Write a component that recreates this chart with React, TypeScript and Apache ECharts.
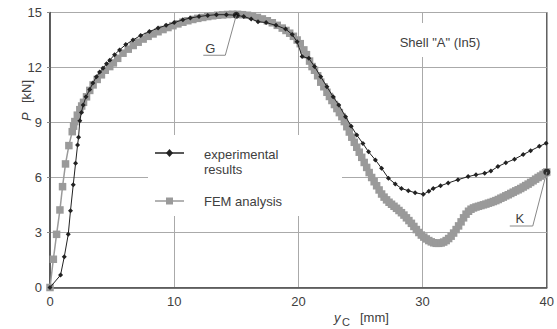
import React, { useEffect, useRef } from "react";
import * as echarts from "echarts";

const expX = [0, 0.85, 1.15, 1.47, 1.65, 1.87, 2.06, 2.22, 2.3, 2.4, 2.53, 2.67, 2.9, 3.2, 3.45, 3.74, 4.0, 4.27, 4.55, 4.81, 5.2, 5.6, 6.1, 6.68, 7.3, 8.0, 8.7, 9.35, 10.0, 10.7, 11.3, 12.0, 12.7, 13.4, 14.2, 15.0, 15.6, 16.2, 16.75, 17.4, 18.2, 18.97, 19.5, 19.9, 20.3, 20.84, 21.3, 21.8, 22.3, 22.8, 23.25, 23.8, 24.25, 24.7, 25.2, 25.65, 26.2, 26.7, 27.25, 27.8, 28.3, 28.85, 29.4, 30.06, 30.5, 30.86, 31.45, 32.06, 32.85, 33.67, 34.3, 35.0, 35.5, 36.07, 36.7, 37.4, 38.1, 38.7, 39.4, 39.95];
const expP = [0, 0.68, 1.68, 2.9, 4.19, 5.6, 6.78, 7.77, 8.2, 9.1, 9.55, 9.95, 10.4, 10.8, 11.15, 11.5, 11.75, 11.96, 12.2, 12.4, 12.7, 12.96, 13.25, 13.5, 13.75, 13.96, 14.15, 14.3, 14.45, 14.6, 14.7, 14.78, 14.84, 14.88, 14.88, 14.85, 14.78, 14.65, 14.5, 14.45, 14.3, 14.1, 13.8, 13.4, 12.6, 12.5, 12.05, 11.5, 10.95, 10.4, 9.96, 9.32, 8.8, 8.32, 7.85, 7.4, 6.96, 6.5, 5.96, 5.65, 5.4, 5.28, 5.17, 5.08, 5.25, 5.4, 5.55, 5.7, 5.88, 6.05, 6.15, 6.23, 6.35, 6.6, 6.8, 7.0, 7.25, 7.46, 7.7, 7.87];

const femX = [0, 0.27, 0.53, 0.8, 1.01, 1.25, 1.52, 1.79, 1.9, 2.0, 2.2, 2.4, 2.55, 2.7, 2.94, 3.2, 3.47, 3.8, 4.14, 4.45, 4.81, 5.1, 5.45, 5.88, 6.3, 6.7, 7.1, 7.5, 7.9, 8.3, 8.7, 9.1, 9.5, 9.9, 10.3, 10.7, 11.1, 11.5, 11.9, 12.3, 12.7, 13.1, 13.5, 13.9, 14.3, 14.7, 15.1, 15.5, 15.9, 16.3, 16.7, 17.1, 17.5, 17.9, 18.3, 18.7, 19.0, 19.3, 19.6, 19.9, 20.15, 20.44, 20.65, 20.9, 21.1, 21.3, 21.55, 21.8, 22.05, 22.3, 22.5, 22.7, 22.9, 23.1, 23.3, 23.5, 23.7, 23.9, 24.1, 24.3, 24.5, 24.7, 24.9, 25.1, 25.3, 25.5, 25.7, 25.9, 26.1, 26.3, 26.5, 26.7, 26.9, 27.1, 27.3, 27.5, 27.7, 27.9, 28.1, 28.3, 28.5, 28.7, 28.9, 29.1, 29.3, 29.5, 29.7, 29.9, 30.1, 30.3, 30.5, 30.7, 30.9, 31.1, 31.3, 31.5, 31.7, 31.9, 32.1, 32.3, 32.5, 32.7, 32.9, 33.1, 33.3, 33.5, 33.7, 33.9, 34.1, 34.3, 34.5, 34.7, 34.9, 35.1, 35.3, 35.5, 35.7, 35.9, 36.1, 36.3, 36.5, 36.7, 36.9, 37.1, 37.3, 37.5, 37.7, 37.9, 38.1, 38.3, 38.5, 38.7, 38.9, 39.1, 39.3, 39.5, 39.7, 39.9, 40.0];
const femP = [0, 1.54, 2.9, 4.23, 5.5, 6.74, 7.74, 8.5, 8.8, 9.05, 9.4, 9.7, 9.9, 10.1, 10.4, 10.75, 11.05, 11.35, 11.6, 11.85, 12.05, 12.25, 12.5, 12.78, 13.0, 13.2, 13.38, 13.55, 13.7, 13.83, 13.95, 14.07, 14.18, 14.28, 14.38, 14.47, 14.55, 14.62, 14.68, 14.73, 14.78, 14.82, 14.85, 14.87, 14.89, 14.9, 14.9, 14.88, 14.85, 14.8, 14.73, 14.65, 14.55, 14.44, 14.3, 14.15, 14.02, 13.87, 13.7, 13.5, 13.3, 12.96, 12.7, 12.35, 12.05, 11.85, 11.55, 11.2, 10.95, 10.65, 10.42, 10.2, 9.98, 9.76, 9.54, 9.32, 9.05, 8.77, 8.48, 8.2, 7.92, 7.65, 7.38, 7.1, 6.82, 6.55, 6.27, 6.0, 5.77, 5.55, 5.32, 5.1, 4.93, 4.78, 4.65, 4.54, 4.43, 4.32, 4.2, 4.08, 3.95, 3.8, 3.65, 3.5, 3.33, 3.16, 3.0, 2.86, 2.75, 2.65, 2.56, 2.49, 2.44, 2.41, 2.41, 2.43, 2.48, 2.56, 2.67, 2.8, 2.97, 3.16, 3.36, 3.58, 3.8, 4.0, 4.16, 4.27, 4.34, 4.39, 4.43, 4.47, 4.51, 4.55, 4.6, 4.64, 4.69, 4.74, 4.8, 4.87, 4.93, 5.0, 5.06, 5.13, 5.2, 5.27, 5.33, 5.4, 5.48, 5.56, 5.64, 5.73, 5.82, 5.91, 6.0, 6.08, 6.17, 6.26, 6.3];

const pointLabels = ["G", "K"];
const pointX = [15.0, 40.0];
const pointP = [14.85, 6.3];

const seriesNames = ["experimental\nresults", "FEM analysis"];
const shellTitle = 'Shell "A" (In5)';
const xTickValues = [0, 10, 20, 30, 40];
const yTickValues = [0, 3, 6, 9, 12, 15];

const FONT = "Liberation Sans, Arial, sans-serif";
const TXT = "#404040";

export default function App() {
  const ref = useRef<HTMLDivElement>(null);
  useEffect(() => {
    if (!ref.current) return;
    const chart = echarts.init(ref.current, undefined, { renderer: "svg" });
    const expData = expX.map((x, i) => [x, expP[i]]);
    const femData = femX.map((x, i) => [x, femP[i]]);
    const ptData = pointX.map((x, i) => [x, pointP[i]]);
    chart.setOption({
      animation: false,
      backgroundColor: "#fff",
      grid: {
        left: 50, top: 12.5, width: 499, height: 275,
        show: true, borderColor: "#444", borderWidth: 1.2, backgroundColor: "transparent",
      },
      xAxis: {
        type: "value", min: xTickValues[0], max: xTickValues[xTickValues.length - 1], interval: 10,
        axisLine: { lineStyle: { color: "#444", width: 1.5 } },
        axisTick: { show: false },
        axisLabel: { color: TXT, fontSize: 13, fontFamily: FONT, margin: 7 },
        splitLine: { lineStyle: { color: "#aaa", width: 1 } },
      },
      yAxis: {
        type: "value", min: yTickValues[0], max: yTickValues[yTickValues.length - 1], interval: 3,
        axisLine: { show: true, lineStyle: { color: "#444", width: 1.5 } },
        axisTick: { show: true, length: 3, lineStyle: { color: "#888" } },
        axisLabel: { color: TXT, fontSize: 13, fontFamily: FONT, margin: 8 },
        splitLine: { lineStyle: { color: "#aaa", width: 1 } },
      },
      series: [
        {
          name: seriesNames[1], type: "line", data: femData, z: 3,
          lineStyle: { color: "#9a9a9a", width: 1.5 },
          itemStyle: { color: "#9a9a9a" },
          symbol: "rect", symbolSize: 7.5, showAllSymbol: true,
        },
        {
          name: seriesNames[0], type: "line", data: expData, z: 4,
          lineStyle: { color: "#222", width: 1 },
          itemStyle: { color: "#222" },
          symbol: "diamond", symbolSize: 5, showAllSymbol: true,
        },
        {
          type: "scatter", data: ptData, z: 5,
          symbol: "circle", symbolSize: 7,
          itemStyle: { color: "#111" },
        },
      ],
    });

    const g = chart.convertToPixel({ gridIndex: 0 }, ptData[0]) as number[];
    const k = chart.convertToPixel({ gridIndex: 0 }, ptData[1]) as number[];
    const lead = { stroke: "#888", lineWidth: 1, fill: "none" };
    const lx1 = 155, lx2 = 184, lcx = 169.5, ly1 = 153, ly2 = 201;

    chart.setOption({
      graphic: [
        { type: "rect", z: 1, shape: { x: 148, y: 135, width: 194, height: 81 }, style: { fill: "#fff" } },
        { type: "rect", z: 1, shape: { x: 395, y: 23, width: 95, height: 34 }, style: { fill: "#fff" } },
        { type: "line", z: 10, shape: { x1: lx1, y1: ly1, x2: lx2, y2: ly1 }, style: { stroke: "#222", lineWidth: 1.5 } },
        { type: "polygon", z: 10, shape: { points: [[lcx, ly1 - 4], [lcx + 3.5, ly1], [lcx, ly1 + 4], [lcx - 3.5, ly1]] }, style: { fill: "#222" } },
        { type: "text", z: 10, x: 204, y: 154, style: { text: "experimental", fill: TXT, font: `13px ${FONT}`, verticalAlign: "middle" } },
        { type: "text", z: 10, x: 204, y: 169, style: { text: "results", fill: TXT, font: `13px ${FONT}`, verticalAlign: "middle" } },
        { type: "line", z: 10, shape: { x1: lx1, y1: ly2, x2: lx2, y2: ly2 }, style: { stroke: "#9a9a9a", lineWidth: 1.5 } },
        { type: "rect", z: 10, shape: { x: lcx - 3.5, y: ly2 - 3.5, width: 7, height: 7 }, style: { fill: "#9a9a9a" } },
        { type: "text", z: 10, x: 204, y: 201, style: { text: seriesNames[1], fill: TXT, font: `13px ${FONT}`, verticalAlign: "middle" } },
        { type: "text", z: 10, x: 440, y: 42, style: { text: shellTitle, fill: TXT, font: `13px ${FONT}`, align: "center", verticalAlign: "middle" } },
        { type: "polyline", z: 10, shape: { points: [[g[0], g[1]], [g[0] - 11, g[1] + 40], [g[0] - 33, g[1] + 40]] }, style: lead },
        { type: "text", z: 10, x: g[0] - 26, y: g[1] + 33, style: { text: pointLabels[0], fill: TXT, font: `13px ${FONT}`, align: "center", verticalAlign: "middle" } },
        { type: "polyline", z: 10, shape: { points: [[k[0], k[1]], [k[0] - 14, k[1] + 54], [k[0] - 37, k[1] + 54]] }, style: lead },
        { type: "text", z: 10, x: k[0] - 27, y: k[1] + 46, style: { text: pointLabels[1], fill: TXT, font: `13px ${FONT}`, align: "center", verticalAlign: "middle" } },
        {
          type: "group", x: 26, y: 100, rotation: Math.PI / 2, z: 10,
          children: [
            { type: "text", x: -21, y: 0, style: { text: "P", fill: TXT, font: `italic 13px ${FONT}`, verticalAlign: "middle" } },
            { type: "text", x: -3, y: 0, style: { text: "[kN]", fill: TXT, font: `13px ${FONT}`, verticalAlign: "middle" } },
          ],
        },
        { type: "text", z: 10, x: 334, y: 317, style: { text: "y", fill: TXT, font: `italic 13px ${FONT}`, verticalAlign: "middle" } },
        { type: "text", z: 10, x: 342, y: 322, style: { text: "C", fill: TXT, font: `11px ${FONT}`, verticalAlign: "middle" } },
        { type: "text", z: 10, x: 360, y: 317, style: { text: "[mm]", fill: TXT, font: `13px ${FONT}`, verticalAlign: "middle" } },
      ],
    });
    return () => chart.dispose();
  }, []);
  return <div ref={ref} style={{ width: 557, height: 329, position: "absolute", left: 0, top: 0 }} />;
}
